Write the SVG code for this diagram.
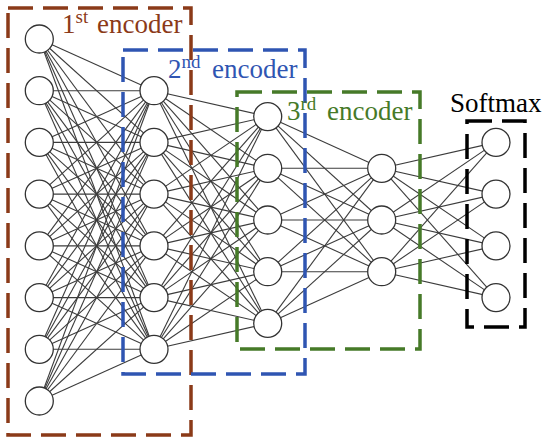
<svg xmlns="http://www.w3.org/2000/svg" width="550" height="445" viewBox="0 0 550 445">
<style>
.e{stroke:#3c3c3c;stroke-width:1.1}
.n{fill:#fff;stroke:#333;stroke-width:1.3}
.box{fill:none;stroke-width:3.5;stroke-dasharray:25 10}
.sup{font-size:19px}
</style>
<rect width="550" height="445" fill="#fff"/>
<g id="connectors">
<g id="l1-l2">
<line class="e" x1="39.3" y1="39" x2="154" y2="90.7"/><line class="e" x1="39.3" y1="39" x2="154" y2="142.4"/><line class="e" x1="39.3" y1="39" x2="154" y2="194.1"/><line class="e" x1="39.3" y1="39" x2="154" y2="245.9"/><line class="e" x1="39.3" y1="39" x2="154" y2="297.6"/><line class="e" x1="39.3" y1="39" x2="154" y2="349.3"/>
<line class="e" x1="39.3" y1="90.7" x2="154" y2="90.7"/><line class="e" x1="39.3" y1="90.7" x2="154" y2="142.4"/><line class="e" x1="39.3" y1="90.7" x2="154" y2="194.1"/><line class="e" x1="39.3" y1="90.7" x2="154" y2="245.9"/><line class="e" x1="39.3" y1="90.7" x2="154" y2="297.6"/><line class="e" x1="39.3" y1="90.7" x2="154" y2="349.3"/>
<line class="e" x1="39.3" y1="142.4" x2="154" y2="90.7"/><line class="e" x1="39.3" y1="142.4" x2="154" y2="142.4"/><line class="e" x1="39.3" y1="142.4" x2="154" y2="194.1"/><line class="e" x1="39.3" y1="142.4" x2="154" y2="245.9"/><line class="e" x1="39.3" y1="142.4" x2="154" y2="297.6"/><line class="e" x1="39.3" y1="142.4" x2="154" y2="349.3"/>
<line class="e" x1="39.3" y1="194.1" x2="154" y2="90.7"/><line class="e" x1="39.3" y1="194.1" x2="154" y2="142.4"/><line class="e" x1="39.3" y1="194.1" x2="154" y2="194.1"/><line class="e" x1="39.3" y1="194.1" x2="154" y2="245.9"/><line class="e" x1="39.3" y1="194.1" x2="154" y2="297.6"/><line class="e" x1="39.3" y1="194.1" x2="154" y2="349.3"/>
<line class="e" x1="39.3" y1="245.9" x2="154" y2="90.7"/><line class="e" x1="39.3" y1="245.9" x2="154" y2="142.4"/><line class="e" x1="39.3" y1="245.9" x2="154" y2="194.1"/><line class="e" x1="39.3" y1="245.9" x2="154" y2="245.9"/><line class="e" x1="39.3" y1="245.9" x2="154" y2="297.6"/><line class="e" x1="39.3" y1="245.9" x2="154" y2="349.3"/>
<line class="e" x1="39.3" y1="297.6" x2="154" y2="90.7"/><line class="e" x1="39.3" y1="297.6" x2="154" y2="142.4"/><line class="e" x1="39.3" y1="297.6" x2="154" y2="194.1"/><line class="e" x1="39.3" y1="297.6" x2="154" y2="245.9"/><line class="e" x1="39.3" y1="297.6" x2="154" y2="297.6"/><line class="e" x1="39.3" y1="297.6" x2="154" y2="349.3"/>
<line class="e" x1="39.3" y1="349.3" x2="154" y2="90.7"/><line class="e" x1="39.3" y1="349.3" x2="154" y2="142.4"/><line class="e" x1="39.3" y1="349.3" x2="154" y2="194.1"/><line class="e" x1="39.3" y1="349.3" x2="154" y2="245.9"/><line class="e" x1="39.3" y1="349.3" x2="154" y2="297.6"/><line class="e" x1="39.3" y1="349.3" x2="154" y2="349.3"/>
<line class="e" x1="39.3" y1="401" x2="154" y2="90.7"/><line class="e" x1="39.3" y1="401" x2="154" y2="142.4"/><line class="e" x1="39.3" y1="401" x2="154" y2="194.1"/><line class="e" x1="39.3" y1="401" x2="154" y2="245.9"/><line class="e" x1="39.3" y1="401" x2="154" y2="297.6"/><line class="e" x1="39.3" y1="401" x2="154" y2="349.3"/>
</g>
<g id="l2-l3">
<line class="e" x1="154" y1="90.7" x2="267.7" y2="116.6"/><line class="e" x1="154" y1="90.7" x2="267.7" y2="168.3"/><line class="e" x1="154" y1="90.7" x2="267.7" y2="220"/><line class="e" x1="154" y1="90.7" x2="267.7" y2="271.7"/><line class="e" x1="154" y1="90.7" x2="267.7" y2="323.4"/>
<line class="e" x1="154" y1="142.4" x2="267.7" y2="116.6"/><line class="e" x1="154" y1="142.4" x2="267.7" y2="168.3"/><line class="e" x1="154" y1="142.4" x2="267.7" y2="220"/><line class="e" x1="154" y1="142.4" x2="267.7" y2="271.7"/><line class="e" x1="154" y1="142.4" x2="267.7" y2="323.4"/>
<line class="e" x1="154" y1="194.1" x2="267.7" y2="116.6"/><line class="e" x1="154" y1="194.1" x2="267.7" y2="168.3"/><line class="e" x1="154" y1="194.1" x2="267.7" y2="220"/><line class="e" x1="154" y1="194.1" x2="267.7" y2="271.7"/><line class="e" x1="154" y1="194.1" x2="267.7" y2="323.4"/>
<line class="e" x1="154" y1="245.9" x2="267.7" y2="116.6"/><line class="e" x1="154" y1="245.9" x2="267.7" y2="168.3"/><line class="e" x1="154" y1="245.9" x2="267.7" y2="220"/><line class="e" x1="154" y1="245.9" x2="267.7" y2="271.7"/><line class="e" x1="154" y1="245.9" x2="267.7" y2="323.4"/>
<line class="e" x1="154" y1="297.6" x2="267.7" y2="116.6"/><line class="e" x1="154" y1="297.6" x2="267.7" y2="168.3"/><line class="e" x1="154" y1="297.6" x2="267.7" y2="220"/><line class="e" x1="154" y1="297.6" x2="267.7" y2="271.7"/><line class="e" x1="154" y1="297.6" x2="267.7" y2="323.4"/>
<line class="e" x1="154" y1="349.3" x2="267.7" y2="116.6"/><line class="e" x1="154" y1="349.3" x2="267.7" y2="168.3"/><line class="e" x1="154" y1="349.3" x2="267.7" y2="220"/><line class="e" x1="154" y1="349.3" x2="267.7" y2="271.7"/><line class="e" x1="154" y1="349.3" x2="267.7" y2="323.4"/>
</g>
<g id="l3-l4">
<line class="e" x1="267.7" y1="116.6" x2="381.7" y2="168.3"/><line class="e" x1="267.7" y1="116.6" x2="381.7" y2="220"/><line class="e" x1="267.7" y1="116.6" x2="381.7" y2="271.7"/>
<line class="e" x1="267.7" y1="168.3" x2="381.7" y2="168.3"/><line class="e" x1="267.7" y1="168.3" x2="381.7" y2="220"/><line class="e" x1="267.7" y1="168.3" x2="381.7" y2="271.7"/>
<line class="e" x1="267.7" y1="220" x2="381.7" y2="168.3"/><line class="e" x1="267.7" y1="220" x2="381.7" y2="220"/><line class="e" x1="267.7" y1="220" x2="381.7" y2="271.7"/>
<line class="e" x1="267.7" y1="271.7" x2="381.7" y2="168.3"/><line class="e" x1="267.7" y1="271.7" x2="381.7" y2="220"/><line class="e" x1="267.7" y1="271.7" x2="381.7" y2="271.7"/>
<line class="e" x1="267.7" y1="323.4" x2="381.7" y2="168.3"/><line class="e" x1="267.7" y1="323.4" x2="381.7" y2="220"/><line class="e" x1="267.7" y1="323.4" x2="381.7" y2="271.7"/>
</g>
<g id="l4-l5">
<line class="e" x1="381.7" y1="168.3" x2="496" y2="142.4"/><line class="e" x1="381.7" y1="168.3" x2="496" y2="194.1"/><line class="e" x1="381.7" y1="168.3" x2="496" y2="245.9"/><line class="e" x1="381.7" y1="168.3" x2="496" y2="297.6"/>
<line class="e" x1="381.7" y1="220" x2="496" y2="142.4"/><line class="e" x1="381.7" y1="220" x2="496" y2="194.1"/><line class="e" x1="381.7" y1="220" x2="496" y2="245.9"/><line class="e" x1="381.7" y1="220" x2="496" y2="297.6"/>
<line class="e" x1="381.7" y1="271.7" x2="496" y2="142.4"/><line class="e" x1="381.7" y1="271.7" x2="496" y2="194.1"/><line class="e" x1="381.7" y1="271.7" x2="496" y2="245.9"/><line class="e" x1="381.7" y1="271.7" x2="496" y2="297.6"/>
</g>
</g>
<g id="boxes" font-family="Liberation Serif, DejaVu Serif, serif" font-size="27">
<g id="enc1"><rect class="box" x="8" y="8" width="183" height="427" stroke="#8b3a18"/>
<text x="62" y="33" fill="#8b3a18">1<tspan class="sup" dy="-10">st</tspan><tspan x="97" dy="10">encoder</tspan></text></g>
<g id="enc2"><rect class="box" x="123" y="50" width="182" height="324" stroke="#2f55b2"/>
<text x="168" y="78" fill="#2f55b2">2<tspan class="sup" dy="-10">nd</tspan><tspan x="212" dy="10">encoder</tspan></text></g>
<g id="enc3"><rect class="box" x="237" y="92" width="183" height="257" stroke="#467a28"/>
<text x="287" y="120" fill="#467a28">3<tspan class="sup" dy="-10">rd</tspan><tspan x="327" dy="10">encoder</tspan></text></g>
<g id="softmax"><rect class="box" x="467" y="121" width="58" height="206" stroke="#000"/>
<text x="450" y="112" fill="#000">Softmax</text></g>
</g>
<g id="layer1">
<g id="n1_1"><circle class="n" cx="39.3" cy="39" r="14"/></g>
<g id="n1_2"><circle class="n" cx="39.3" cy="90.7" r="14"/></g>
<g id="n1_3"><circle class="n" cx="39.3" cy="142.4" r="14"/></g>
<g id="n1_4"><circle class="n" cx="39.3" cy="194.1" r="14"/></g>
<g id="n1_5"><circle class="n" cx="39.3" cy="245.9" r="14"/></g>
<g id="n1_6"><circle class="n" cx="39.3" cy="297.6" r="14"/></g>
<g id="n1_7"><circle class="n" cx="39.3" cy="349.3" r="14"/></g>
<g id="n1_8"><circle class="n" cx="39.3" cy="401" r="14"/></g>
</g>
<g id="layer2">
<g id="n2_1"><circle class="n" cx="154" cy="90.7" r="14"/></g>
<g id="n2_2"><circle class="n" cx="154" cy="142.4" r="14"/></g>
<g id="n2_3"><circle class="n" cx="154" cy="194.1" r="14"/></g>
<g id="n2_4"><circle class="n" cx="154" cy="245.9" r="14"/></g>
<g id="n2_5"><circle class="n" cx="154" cy="297.6" r="14"/></g>
<g id="n2_6"><circle class="n" cx="154" cy="349.3" r="14"/></g>
</g>
<g id="layer3">
<g id="n3_1"><circle class="n" cx="267.7" cy="116.6" r="14"/></g>
<g id="n3_2"><circle class="n" cx="267.7" cy="168.3" r="14"/></g>
<g id="n3_3"><circle class="n" cx="267.7" cy="220" r="14"/></g>
<g id="n3_4"><circle class="n" cx="267.7" cy="271.7" r="14"/></g>
<g id="n3_5"><circle class="n" cx="267.7" cy="323.4" r="14"/></g>
</g>
<g id="layer4">
<g id="n4_1"><circle class="n" cx="381.7" cy="168.3" r="14"/></g>
<g id="n4_2"><circle class="n" cx="381.7" cy="220" r="14"/></g>
<g id="n4_3"><circle class="n" cx="381.7" cy="271.7" r="14"/></g>
</g>
<g id="layer5">
<g id="n5_1"><circle class="n" cx="496" cy="142.4" r="14"/></g>
<g id="n5_2"><circle class="n" cx="496" cy="194.1" r="14"/></g>
<g id="n5_3"><circle class="n" cx="496" cy="245.9" r="14"/></g>
<g id="n5_4"><circle class="n" cx="496" cy="297.6" r="14"/></g>
</g>
</svg>
